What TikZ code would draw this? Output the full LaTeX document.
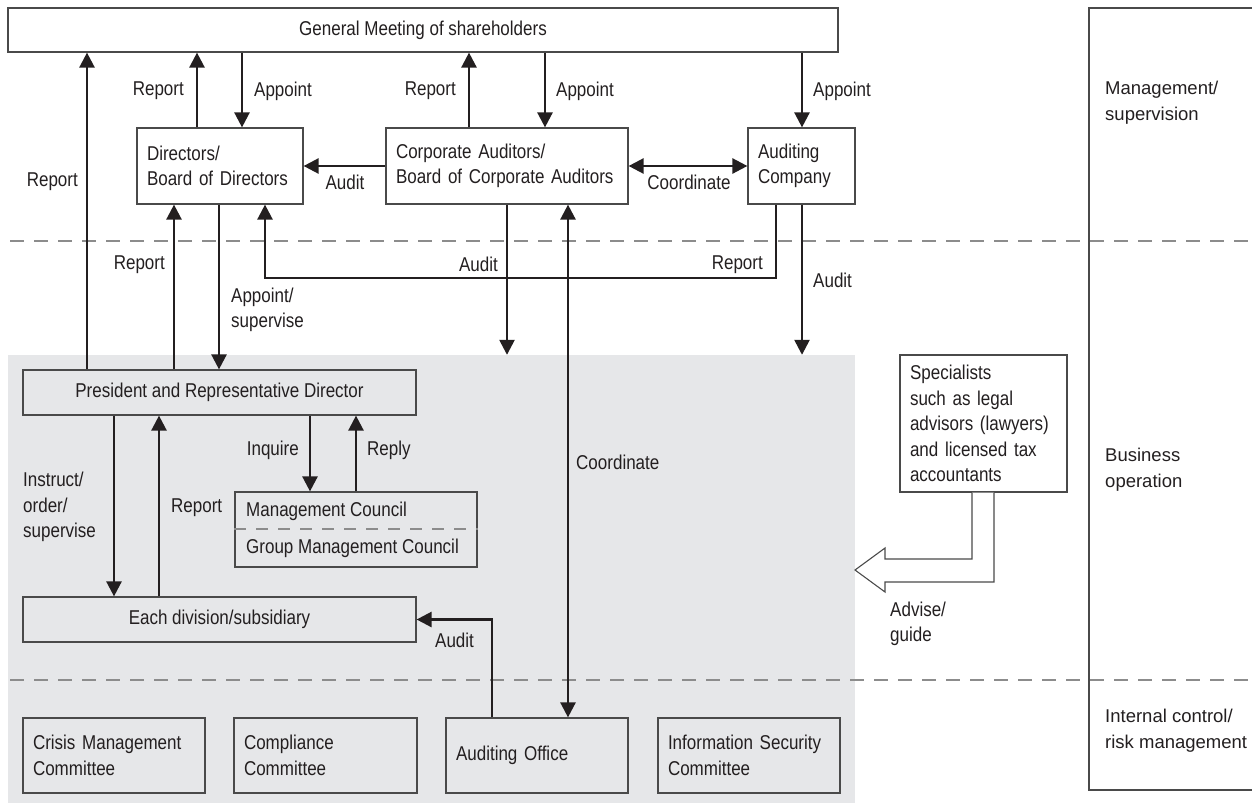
\documentclass[tikz,border=0pt]{standalone}
\usepackage{fontspec}
\setmainfont{Liberation Sans}[FakeStretch=0.85]
\newfontfamily\spaltefont{Liberation Sans}
\usetikzlibrary{arrows.meta}
\definecolor{tinte}{HTML}{231F20}
\definecolor{flaeche}{HTML}{E6E7E9}
\definecolor{rahmen}{HTML}{4A4A4A}
\definecolor{strich}{HTML}{8C8C8C}
\hyphenpenalty=10000
\hbadness=10000
\hfuzz=20pt
\tikzset{
	every node/.style={font=\fontsize{20}{25.5}\selectfont, text=tinte},
	box/.style={draw=rahmen, line width=1.2pt, inner xsep=0pt, inner ysep=0pt},
	lbox/.style={box, align=left, inner xsep=10pt},
	lbl/.style={inner sep=0pt},
	spalte/.style={inner sep=0pt, align=left, font=\spaltefont\fontsize{18.5}{26}\selectfont},
	pfeil/.style={draw=tinte, line width=2.5pt, -{Triangle[length=15pt,width=15pt]}},
	doppel/.style={pfeil, {Triangle[length=15pt,width=15pt]}-{Triangle[length=15pt,width=15pt]}},
	trenner/.style={draw=strich, line width=2pt, dash pattern=on 14pt off 10pt}
}
\begin{document}
\begin{tikzpicture}[x=1pt, y=-1pt]
	\useasboundingbox (0,0) rectangle (1252,806);
	% Hintergrund Geschaeftsbetrieb
	\node[fill=flaeche, inner sep=0pt, minimum width=847pt, minimum height=448pt] (ops) at (431.5,579) {};
	% Trennlinien
	\draw[trenner] (10,241) -- (1252,241);
	\draw[trenner] (10,680) -- (1252,680);
	% rechte Spalte
	\draw[draw=rahmen, line width=1.2pt] (1252,8) -- (1089,8) -- (1089,790) -- (1252,790);
	\node[spalte, anchor=west] (col1) at (1105,103) {Management/\\supervision};
	\node[spalte, anchor=west] (col2) at (1105,470) {Business\\operation};
	\node[spalte, anchor=west] (col3) at (1105,731) {Internal control/\\risk management};

	% Organe oben
	\node[box, minimum width=830pt, minimum height=44pt] (gm) at (423,30) {General Meeting of shareholders};
	\node[lbox, text width=146pt, minimum height=76pt] (dir) at (220,166) {Directors/\\Board of Directors};
	\node[lbox, text width=222pt, minimum height=76pt] (corp) at (507,166) {Corporate Auditors/\\Board of Corporate Auditors};
	\node[lbox, text width=87pt, minimum height=76pt] (audco) at (801.5,166) {Auditing\\Company};

	% Geschaeftsbetrieb
	\node[box, minimum width=393pt, minimum height=45pt] (pres) at (219.5,392.5) {President and Representative Director};
	\node[box, minimum width=393pt, minimum height=45pt] (div) at (219.5,619.5) {Each division/subsidiary};
	\node[box, minimum width=242pt, minimum height=75pt] (mc) at (356,529.5) {};
	\draw[draw=strich, line width=1.5pt, dash pattern=on 12pt off 10pt] (mc.west |- 0,529) -- (mc.east |- 0,529);
	\node[lbl, anchor=west] (mctxt) at (246,511) {Management Council};
	\node[lbl, anchor=west] (gmctxt) at (246,548) {Group Management Council};
	\node[lbox, text width=147pt, minimum height=137pt] (spec) at (983.5,423.5)
		{Specialists\\such as legal\\advisors (lawyers)\\and licensed tax\\accountants};

	% Ausschuesse unten
	\node[lbox, text width=162pt, minimum height=75pt] (crisis) at (114,755.5) {Crisis Management\\Committee};
	\node[lbox, text width=163pt, minimum height=75pt] (compl) at (325.5,755.5) {Compliance\\Committee};
	\node[lbox, text width=162pt, minimum height=75pt] (audoff) at (537,755.5) {Auditing Office};
	\node[lbox, text width=162pt, minimum height=75pt] (infosec) at (749,755.5) {Information Security\\Committee};

	% Pfeile oben
	\draw[pfeil] (87,0 |- pres.north) -- (87,0 |- gm.south);
	\draw[pfeil] (197,0 |- dir.north) -- (197,0 |- gm.south);
	\draw[pfeil] (242,0 |- gm.south) -- (242,0 |- dir.north);
	\draw[pfeil] (469,0 |- corp.north) -- (469,0 |- gm.south);
	\draw[pfeil] (545,0 |- gm.south) -- (545,0 |- corp.north);
	\draw[pfeil] (802,0 |- gm.south) -- (802,0 |- audco.north);
	\draw[pfeil] (corp.west) -- (dir.east);
	\draw[doppel] (corp.east) -- (audco.west);
	\draw[pfeil] (174,0 |- pres.north) -- (174,0 |- dir.south);
	\draw[pfeil] (219,0 |- dir.south) -- (219,0 |- pres.north);
	\draw[pfeil] (776,0 |- audco.south) |- (265,278) -- (265,0 |- dir.south);
	\draw[pfeil] (507,0 |- corp.south) -- (507,0 |- ops.north);
	\draw[pfeil] (802,0 |- audco.south) -- (802,0 |- ops.north);
	\draw[doppel] (568,0 |- corp.south) -- (568,0 |- audoff.north);

	% Pfeile Geschaeftsbetrieb
	\draw[pfeil] (114,0 |- pres.south) -- (114,0 |- div.north);
	\draw[pfeil] (159,0 |- div.north) -- (159,0 |- pres.south);
	\draw[pfeil] (310,0 |- pres.south) -- (310,0 |- mc.north);
	\draw[pfeil] (356,0 |- mc.north) -- (356,0 |- pres.south);
	\draw[pfeil] (492,0 |- audoff.north) |- (div.east);
	% Beratung
	\draw[draw=rahmen, line width=1.1pt, fill=white] (972,0 |- spec.south) -- (972,559) -- (885,559) -- (885,548)
		-- (855,570) -- (885,592) -- (885,582) -- (994,582) -- (994,0 |- spec.south);

	% Beschriftungen
	\node[lbl, anchor=east] (rep1) at (184,91) {Report};
	\node[lbl, anchor=west] (app1) at (254,91) {Appoint};
	\node[lbl, anchor=east] (rep2) at (78,182) {Report};
	\node[lbl] (aud1) at (345,182) {Audit};
	\node[lbl, anchor=east] (rep3) at (456,91) {Report};
	\node[lbl, anchor=west] (app2) at (556,91) {Appoint};
	\node[lbl, anchor=west] (app3) at (813,91) {Appoint};
	\node[lbl] (koord1) at (689,182) {Coordinate};
	\node[lbl, anchor=east] (rep4) at (165,265) {Report};
	\node[lbl, anchor=west, align=left] (appsup) at (231,310) {Appoint/\\supervise};
	\node[lbl, anchor=east] (aud2) at (498,264) {Audit};
	\node[lbl, anchor=east] (rep5) at (763,265) {Report};
	\node[lbl, anchor=west] (aud3) at (813,280) {Audit};
	\node[lbl, anchor=west, align=left] (instr) at (23,507) {Instruct/\\order/\\supervise};
	\node[lbl, anchor=west] (rep6) at (171,508) {Report};
	\node[lbl, anchor=east] (inq) at (299,450) {Inquire};
	\node[lbl, anchor=west] (repl) at (367,450) {Reply};
	\node[lbl, anchor=west] (koord2) at (576,462) {Coordinate};
	\node[lbl, anchor=west] (aud4) at (435,640) {Audit};
	\node[lbl, anchor=west, align=left] (advise) at (890,624) {Advise/\\guide};
\end{tikzpicture}
\end{document}
